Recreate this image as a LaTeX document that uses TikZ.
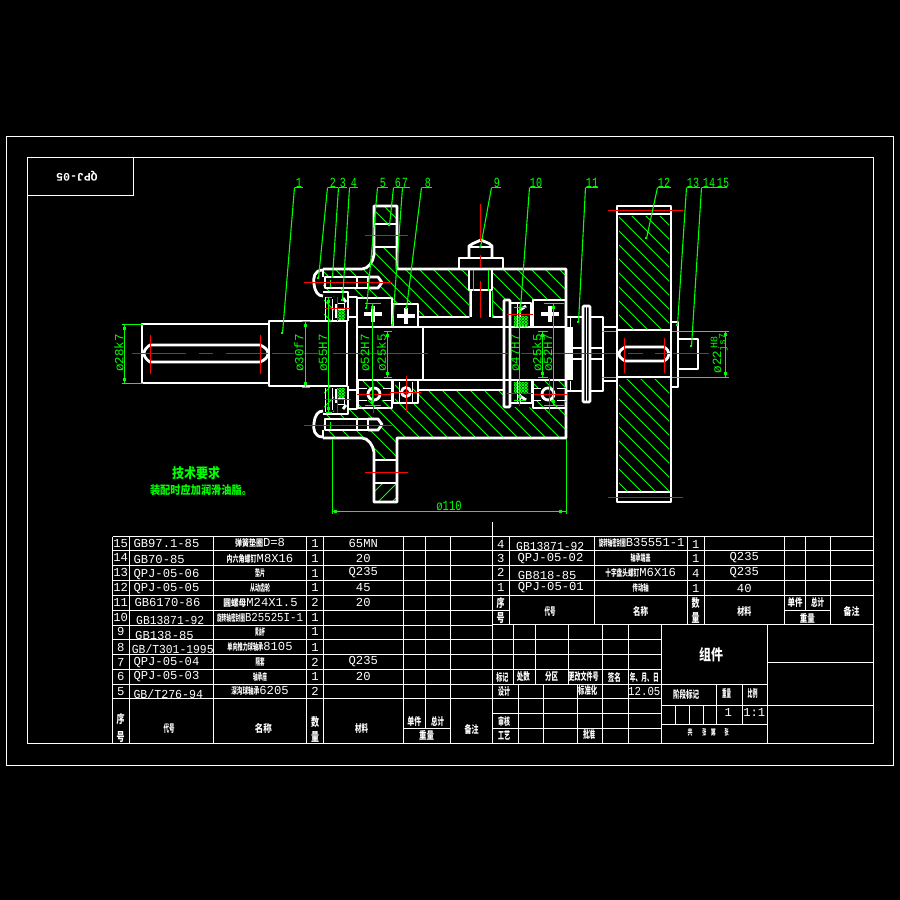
\documentclass[tikz,border=0pt]{standalone}
\usepackage{fontspec}
\usepackage{graphicx}
\setmainfont{Liberation Sans}
\setmonofont{Liberation Mono}
\newfontfamily\cjk{Noto Sans CJK SC}
\newcounter{nn}
\newcommand\tx[4][]{\stepcounter{nn}\node[#1] (n\thenn) at (#2,#3) {#4};}
\newcommand\cj[3][9]{\resizebox{#2pt}{#1pt}{\cjk\bfseries #3}}
\definecolor{grn}{RGB}{0,255,0}
\definecolor{rd}{RGB}{255,0,0}
\tikzset{
 thin w/.style={draw=white,line width=1pt,xshift=.5pt,yshift=-.5pt},
 thick w/.style={draw=white,line width=2.8pt,line join=round},
 gl/.style={draw=grn,line width=1.1pt,xshift=.5pt,yshift=-.5pt},
 hl/.style={draw=grn,line width=.9pt},
 rl/.style={draw=rd,line width=1.3pt,xshift=.5pt,yshift=-.5pt},
 tb/.style={text=white,inner sep=0pt,font=\fontsize{12.2}{13}\selectfont\ttfamily},
 dm/.style={text=grn,inner sep=0pt,rotate=90,font=\fontsize{12.5}{13}\selectfont\ttfamily},
 lb/.style={text=grn,inner sep=0pt,font=\fontsize{14}{14}\selectfont\ttfamily},
}
\newcommand\hatchB[2][13]{\begin{scope}\clip #2;\foreach \k in {-400,-386,...,800}{\draw[hl] (\k,150)--({\k+500},650);}\end{scope}}
\newcommand\hatchF[2][13]{\begin{scope}\clip #2;\foreach \k in {-400,-386,...,800}{\draw[hl] (\k,650)--({\k+500},150);}\end{scope}}
\newcommand\dense[1]{\begin{scope}\clip #1;\foreach \k in {0,3,...,900}{\draw[draw=grn,line width=.9pt] ({\k-300},150)--({\k+200},650);\draw[draw=grn,line width=.9pt] ({\k-300},650)--({\k+200},150);}\end{scope}}
\newcommand\dv[4]{\draw[gl] (#1,#2)--(#1,#3);\draw[gl] ({#1-#4},#2)--({#1+#4},#2);\draw[gl] ({#1-#4},#3)--({#1+#4},#3);\fill[grn] ({#1-1},{#2+2.5}) rectangle ++(3,3);\fill[grn] ({#1-1},{#3-2.5}) rectangle ++(3,-3);}
\newcommand\ldr[7]{\tx[lb]{#1}{183}{\scalebox{.72}[1]{#2}}\draw[gl] (#3,187)--(#4,187);\draw[gl] (#3,187)--(#5,#6);\fill[grn] ({#5-1},{#6-1}) rectangle ++(2.4,2.4);}
\newcommand\plusw[2]{\draw[draw=white,line width=3.2pt] ({#1-9},#2)--({#1+9},#2);\draw[draw=white,line width=3.2pt] (#1,{#2-8})--(#1,{#2+8});}
\newcommand\crossr[6]{\draw[rl] (#3,#2)--(#4,#2);\draw[rl] (#1,#5)--(#1,#6);}
\newcommand\boltpart{%
 \fill[black] (325,277) rectangle (368,288);
 \fill[black] (368,277)--(378,277)--(382,282.5)--(378,288)--(368,288)--cycle;
 \draw[thick w] (325,277) rectangle (368,288);
 \draw[thick w] (357,277)--(357,288);
 \draw[thick w] (368,277)--(378,277)--(382,282.5)--(378,288)--(368,288);
 \draw[thick w] (323,270) .. controls (314,270) and (313,278) .. (314,284) .. controls (315,292) and (318,296) .. (323,296);
 \draw[thick w] (323,269)--(323,277);
 \draw[gl] (330,279)--(330,286);
}
\newcommand\sealpart{%
 \hatchB[7]{(324,296) rectangle (334,320)}
 \dense{(337,308) rectangle (345,319)}
 \draw[thin w] (325,296)--(325,320);
 \draw[thin w] (332,298)--(332,320);
 \draw[thick w] (336,304)--(336,318);
 \draw[thick w] (343,298)--(346,302);
 \draw[thin w] (337,303) rectangle (344,309);
}
\newcommand\bearingB[1]{%
 \hatchB{(#1,381) rectangle ({#1+34},388)}
 \hatchB{(#1,400) rectangle ({#1+34},408)}
 \draw[thin w] (#1,388)--({#1+8},388);\draw[thin w] ({#1+24},388)--({#1+33},388);
 \draw[thin w] (#1,400)--({#1+8},400);\draw[thin w] ({#1+24},400)--({#1+33},400);
 \draw[thick w] ({#1+16},394) circle (6);
}
\begin{document}
\begin{tikzpicture}[x=1pt,y=-1pt]
\useasboundingbox (0,0) rectangle (900,900);
\fill[black] (0,0) rectangle (900,900);
% frames
\draw[thin w] (6,136) rectangle (893,765);
\draw[thin w] (27,157) rectangle (873,743);
\draw[thin w] (27,195)--(133,195)--(133,157);
\tx[tb,rotate=180,font=\fontsize{11.5}{12}\selectfont\ttfamily\bfseries]{77}{176}{QPJ-05}
% hatching
\hatchB{(357,298)--(393,298)--(393,304)--(418,304)--(418,317)--(469,317)--(469,269)--(397,269)--(397,247)--(374,247)--(374,260)--(362,269)--(323,269)--(323,292)--(348,292)--(348,297)--cycle}
\hatchB{(492,317)--(504,317)--(504,300)--(566,300)--(566,269)--(492,269)--cycle}
\hatchB{(374,206) rectangle (397,224)}
\hatchB{(357,409)--(392,409)--(393,403)--(418,403)--(418,390)--(504,390)--(504,407)--(566,408)--(566,438)--(397,438)--(397,460)--(374,460)--(374,447)--(362,438)--(323,438)--(323,414)--(348,414)--(348,409)--cycle}
\hatchF{(374,483) rectangle (397,502)}
\hatchB{(619,216) rectangle (669,329)}
\hatchB{(619,379) rectangle (669,490)}
% left shaft
\draw[thick w] (142,324) rectangle (269,383);
\draw[thick w] (269,321) rectangle (347,386);
\draw[thick w] (150,345)--(260,345) .. controls (265,347) and (268,350) .. (268,353.5) .. controls (268,357) and (265,360) .. (260,362)--(150,362) .. controls (147,360) and (144,357) .. (144,353.5) .. controls (144,350) and (147,347) .. (150,345)--cycle;
% housing outline
\draw[thick w] (323,269)--(362,269) .. controls (368,269) and (373,262) .. (374,255)--(374,206)--(397,206)--(397,269)--(566,269)--(566,438)--(397,438)--(397,502)--(374,502)--(374,452) .. controls (373,445) and (368,438) .. (362,438)--(323,438);
\draw[thick w] (374,224)--(398,224);\draw[thick w] (374,247)--(398,247);
\draw[thick w] (374,460)--(398,460);\draw[thick w] (374,483)--(398,483);
% cap
\draw[thick w] (323,292)--(348,292)--(348,297)--(357,297)--(357,409)--(348,409)--(348,414)--(323,414);
\draw[thick w] (348,292)--(348,321);\draw[thick w] (348,386)--(348,414);
\draw[thick w] (348,317)--(357,317);\draw[thick w] (348,390)--(357,390);
% bolts
\boltpart
\begin{scope}[y=1pt,yshift=-707pt]\boltpart\end{scope}
% seals on the left
\sealpart
\begin{scope}[y=1pt,yshift=-707pt]\sealpart\end{scope}
% shaft body
\draw[thick w] (357,327)--(566,327);
\draw[thick w] (357,380)--(566,380);
\draw[thick w] (423,327)--(423,380);
% bore
\draw[thick w] (418,317)--(469,317);\draw[thick w] (492,317)--(504,317);
\draw[thick w] (418,390)--(504,390);
% bearings top
\draw[thick w] (358,298)--(392,298)--(392,327);
\draw[thick w] (393,304)--(393,327);
\draw[thick w] (393,304)--(418,304)--(418,327);
\plusw{373}{314}\plusw{406}{316}
\draw[thick w] (533,327)--(533,300)--(566,300);
\plusw{550}{314}
% bearings bottom
\bearingB{358}
\draw[thick w] (358,380)--(358,408)--(392,408)--(392,380);
\hatchB{(395,381) rectangle (399,402)}\hatchB{(412,381) rectangle (417,402)}
\draw[thick w] (393,380)--(393,403)--(418,403)--(418,380);
\draw[thin w] (399,381)--(399,403);\draw[thin w] (412,381)--(412,403);
\draw[thick w] (406,392) circle (4.5);
\bearingB{532}
\draw[thick w] (533,380)--(533,408)--(566,408);
% seal 10
\draw[thick w,rounded corners=1pt] (504,300) rectangle (510,407);
\dense{(514,316) rectangle (528,326)}
\dense{(514,382) rectangle (528,392)}
\draw[thick w] (510,303)--(531,303)--(531,327);
\draw[thin w] (517,303)--(517,327);\draw[thin w] (520,303)--(520,316);
\draw[thick w] (510,403)--(532,403)--(532,380);
\draw[thin w] (517,380)--(517,403);\draw[thin w] (520,392)--(520,403);
\draw[thick w] (520,396)--(526,400);\draw[thick w] (520,310)--(526,306);
% nipple
\draw[thick w] (459,269)--(459,258)--(503,258)--(503,269);
\draw[thick w] (469,258)--(469,246)--(473,243.5)--(481,240)--(489,243.5)--(492,246)--(492,258);
\draw[thick w] (469,247)--(492,247);
\draw[thick w] (469,269)--(469,290)--(492,290)--(492,269);
\draw[thick w] (471,290)--(471,317);\draw[thick w] (490,290)--(490,317);
\draw[gl] (473,269)--(473,290);\draw[gl] (488,269)--(488,290);
\draw[gl] (469,290)--(469,317);\draw[gl] (492,290)--(492,317);
% nut and flange
\fill[white] (565,327) rectangle (573,380);
\draw[thick w] (567,317)--(603,317)--(603,391)--(567,391);
\draw[thin w] (570,317)--(570,327);\draw[thin w] (570,380)--(570,391);
\draw[thick w] (573,348)--(603,348);\draw[thick w] (573,359)--(603,359);
\fill[black] (583,306) rectangle (590,402);
\draw[thick w,rounded corners=1pt] (583,306) rectangle (590,402);
\draw[thin w] (586,306)--(586,402);
\draw[thick w] (603,327)--(617,327);\draw[thick w] (603,381)--(617,381);
\draw[gl] (601,331)--(617,331);\draw[gl] (601,377)--(617,377);
% gear
\draw[thick w] (617,206) rectangle (671,502);
\draw[thick w] (617,214)--(672,214);\draw[thick w] (617,492)--(672,492);
\draw[thick w] (617,330)--(671,330);\draw[thick w] (617,377)--(671,377);
\draw[thick w] (625,347)--(664,347) .. controls (667,349) and (669,351) .. (669,354) .. controls (669,357) and (667,359) .. (664,361)--(625,361) .. controls (622,359) and (619,357) .. (619,354) .. controls (619,351) and (622,349) .. (625,347)--cycle;
% washer and bolt
\draw[thick w] (671,322)--(678,322)--(678,387)--(671,387);
\draw[thick w] (678,339)--(698,339)--(698,369)--(678,369);
% red centre lines
\foreach \a/\b in {131/185,198/212,225/267,271/293,303/317,332/427,439/508,520/615,627/642,654/669,672/708}{\draw[rl] (\a,353)--(\b,353);}
\draw[rl] (150,334)--(150,373);\draw[rl] (260,334)--(260,373);
\draw[rl] (624,337)--(624,372);\draw[rl] (664,337)--(664,372);
\draw[rl] (303,282)--(391,282);\draw[rl] (303,425)--(391,425);
\draw[rl] (364,235)--(407,235);\draw[rl] (364,472)--(407,472);
\draw[rl] (480,203)--(480,240);\draw[rl] (480,254)--(480,266);\draw[rl] (480,280)--(480,317);
\draw[rl] (607,210)--(682,210);\draw[rl] (607,497)--(682,497);
\crossr{337}{308}{324}{349}{296}{320}
\crossr{337}{399}{324}{350}{388}{412}
\crossr{373}{394}{356}{390}{382}{412}
\crossr{406}{392}{389}{420}{375}{410}
\crossr{519}{314}{506}{532}{304}{322}
\crossr{519}{393}{506}{532}{380}{405}
\crossr{549}{394}{533}{566}{377}{412}
% dimensions
\draw[gl] (121,324)--(142,324);\draw[gl] (121,383)--(142,383);
\dv{124}{324}{383}{3}
\tx[dm]{119}{353}{ø28k7}
\dv{305}{321}{387}{4}
\tx[dm]{299}{353}{ø30f7}
\dv{328}{297}{412}{3}
\tx[dm]{323}{353}{ø55H7}
\dv{372}{303}{405}{8}
\tx[dm]{365}{353}{ø52H7}
\dv{387}{331}{377}{4}
\tx[dm]{381.5}{353}{ø25k5}
\dv{519}{307}{400}{6}
\tx[dm]{515}{353}{ø47H7}
\dv{542}{331}{377}{5}
\tx[dm]{537}{353}{ø25k5}
\dv{553}{303}{405}{10}
\tx[dm]{548}{353}{ø52H7}
\draw[gl] (332,438)--(332,513);\draw[gl] (566,438)--(566,513);
\draw[gl] (332,511)--(566,511);
\fill[grn] (334,510) rectangle ++(3,3);\fill[grn] (559,510) rectangle ++(3,3);
\tx[lb]{449}{506}{\scalebox{.75}[1]{ø110}}
\draw[gl] (671,331)--(728,331);\draw[gl] (671,377)--(728,377);
\draw[gl] (725,331)--(725,377);
\fill[grn] (724,333) rectangle ++(3,3);\fill[grn] (724,372) rectangle ++(3,3);
\tx[dm]{717}{362}{ø22}
\tx[dm,font=\fontsize{10}{10}\selectfont\ttfamily]{714}{342}{H8}
\tx[dm,font=\fontsize{10}{10}\selectfont\ttfamily]{723}{342}{js7}
% leaders
\ldr{299}{1}{294}{302}{282}{333}{}
\ldr{333}{2}{327}{337}{318}{278}{}
\ldr{343}{3}{338}{346}{332}{277}{}
\ldr{354}{4}{349}{357}{342}{300}{}
\ldr{383}{5}{377}{387}{366}{308}{}
\ldr{398}{6}{393}{402}{389}{225}{}
\ldr{405}{7}{402}{409}{392}{325}{}
\ldr{428}{8}{421}{431}{406}{308}{}
\ldr{497}{9}{491}{500}{480}{247}{}
\ldr{536}{10}{529}{541}{520}{308}{}
\ldr{592}{11}{585}{597}{578}{322}{}
\ldr{664}{12}{657}{670}{646}{238}{}
\ldr{693}{13}{686}{699}{677}{325}{}
\ldr{709}{14}{701}{726}{691}{346}{}
\tx[lb]{723}{183}{\scalebox{.72}[1]{15}}
% notes
\tx[text=grn,inner sep=0pt]{196}{473}{\cj[12]{48}{技术要求}}
\tx[text=grn,inner sep=0pt]{201}{490}{\cj[10]{102}{装配时应加润滑油脂。}}
% table grid
\draw[thin w] (492,521)--(492,743);
\foreach \y in {536,550,565,580,595}{\draw[thin w] (112,\y)--(873,\y);}
\foreach \y in {610,625,639,654,669,684,698}{\draw[thin w] (112,\y)--(492,\y);}
\draw[thin w] (492,624)--(873,624);
\foreach \x in {112,129,213,306,323,403,450}{\draw[thin w] (\x,536)--(\x,743);}
\draw[thin w] (425,536)--(425,728);
\draw[thin w] (403,728)--(450,728);
\foreach \x in {509,594,687,704,784,830}{\draw[thin w] (\x,536)--(\x,624);}
\draw[thin w] (805,536)--(805,610);
\draw[thin w] (492,610)--(509,610);
\draw[thin w] (784,610)--(830,610);
\foreach \y in {639,654,669,684,698,713,728}{\draw[thin w] (492,\y)--(661,\y);}
\foreach \x in {513,535,568,602,628}{\draw[thin w] (\x,624)--(\x,684);}
\foreach \x in {518,543,577,602,628}{\draw[thin w] (\x,684)--(\x,743);}
\draw[thin w] (661,624)--(661,743);
\draw[thin w] (767,624)--(767,743);
\draw[thin w] (661,684)--(767,684);
\draw[thin w] (661,705)--(873,705);
\draw[thin w] (661,724)--(767,724);
\draw[thin w] (767,662)--(873,662);
\draw[thin w] (716,684)--(716,724);
\draw[thin w] (742,684)--(742,724);
\foreach \x in {675,689,703}{\draw[thin w] (\x,705)--(\x,724);}
% left table rows
\tx[tb]{120.7}{543.3}{15}\tx[tb,anchor=west]{133.3}{543.3}{GB97.1-85}\tx[tb]{260}{543.3}{\cj[8]{28}{弹簧垫圈}D=8}\tx[tb]{315}{543.3}{1}\tx[tb]{363.3}{543.3}{65MN}
\tx[tb]{120.7}{557.7}{14}\tx[tb,anchor=west]{133.3}{559.3}{GB70-85}\tx[tb]{260}{558.5}{\cj[8]{30}{内六角螺钉}M8X16}\tx[tb]{315}{558}{1}\tx[tb]{363.3}{558}{20}
\tx[tb]{120.7}{572.7}{13}\tx[tb,anchor=west]{133.3}{574.3}{QPJ-05-06}\tx[tb]{260}{573}{\cj[8]{10}{垫片}}\tx[tb]{315}{573}{1}\tx[tb]{363.3}{573}{Q235}
\tx[tb]{120.7}{587.3}{12}\tx[tb,anchor=west]{133.3}{588.3}{QPJ-05-05}\tx[tb]{260}{587.5}{\cj[8]{20}{从动齿轮}}\tx[tb]{315}{587.5}{1}\tx[tb]{363.3}{587.5}{45}
\tx[tb]{120.7}{602.3}{11}\tx[tb,anchor=west]{134.3}{602}{GB6170-86}\tx[tb]{260.5}{602.5}{\cj[8]{23}{圆螺母}M24X1.5}\tx[tb]{315}{602.5}{2}\tx[tb]{363.3}{602.5}{20}
\tx[tb]{120.7}{617.7}{10}\tx[tb,anchor=west]{136}{620.7}{\scalebox{.93}[1]{GB13871-92}}\tx[tb]{260}{617.7}{\cj[8]{28}{旋转轴密封圈}\scalebox{.88}[1]{B25525I-1}}\tx[tb]{315}{617.7}{1}
\tx[tb]{120.7}{631.7}{9}\tx[tb,anchor=west]{135}{635}{GB138-85}\tx[tb]{260}{631.7}{\cj[8]{10}{黄油杯}}\tx[tb]{315}{631.7}{1}
\tx[tb]{120.7}{647}{8}\tx[tb,anchor=west]{131.7}{649}{\scalebox{.93}[1]{GB/T301-1995}}\tx[tb]{260}{647}{\cj[8]{36}{单向推力球轴承}8105}\tx[tb]{315}{647}{1}
\tx[tb]{120.7}{662}{7}\tx[tb,anchor=west]{133.3}{662.5}{QPJ-05-04}\tx[tb]{260}{662}{\cj[8]{9}{隔套}}\tx[tb]{315}{662}{2}\tx[tb]{363.3}{662}{Q235}
\tx[tb]{120.7}{676.7}{6}\tx[tb,anchor=west]{133.3}{677}{QPJ-05-03}\tx[tb]{260}{676.7}{\cj[8]{14}{轴承座}}\tx[tb]{315}{676.7}{1}\tx[tb]{363.3}{676.7}{20}
\tx[tb]{120.7}{691.7}{5}\tx[tb,anchor=west]{133.3}{694.3}{\scalebox{.95}[1]{GB/T276-94}}\tx[tb]{260}{691}{\cj[8]{28}{深沟球轴承}6205}\tx[tb]{315}{691.7}{2}
\tx[text=white,inner sep=0pt]{120.7}{719}{\cj[10]{8}{序}}\tx[text=white,inner sep=0pt]{120.7}{737}{\cj[10]{8}{号}}
\tx[text=white,inner sep=0pt]{169}{728}{\cj{11}{代号}}\tx[text=white,inner sep=0pt]{263.3}{728}{\cj{17}{名称}}
\tx[text=white,inner sep=0pt]{315}{721.7}{\cj[10]{8}{数}}\tx[text=white,inner sep=0pt]{315}{736.7}{\cj[10]{8}{量}}
\tx[text=white,inner sep=0pt]{361.7}{728}{\cj{13}{材料}}\tx[text=white,inner sep=0pt]{414.3}{721.7}{\cj{14}{单件}}\tx[text=white,inner sep=0pt]{437.7}{721.7}{\cj{13}{总计}}
\tx[text=white,inner sep=0pt]{426.7}{735.7}{\cj{15}{重量}}\tx[text=white,inner sep=0pt]{471.7}{729}{\cj{14}{备注}}
% right table rows
\tx[tb]{500.7}{544}{4}\tx[tb,anchor=west]{516}{546}{\scalebox{.93}[1]{GB13871-92}}\tx[tb]{641.7}{543.3}{\cj[8]{27}{旋转轴密封圈}B35551-1}\tx[tb]{695.7}{544}{1}
\tx[tb]{500.7}{558}{3}\tx[tb,anchor=west]{517.3}{558.5}{QPJ-05-02}\tx[tb]{640.7}{558}{\cj[8]{20}{轴承端盖}}\tx[tb]{695.7}{558}{1}\tx[tb]{744.3}{558}{Q235}
\tx[tb]{500.7}{572.7}{2}\tx[tb,anchor=west]{517.7}{575}{GB818-85}\tx[tb]{640.7}{573.3}{\cj[8]{34}{十字盘头螺钉}M6X16}\tx[tb]{695.7}{573}{4}\tx[tb]{744.3}{573}{Q235}
\tx[tb]{500.7}{587.7}{1}\tx[tb,anchor=west]{517.7}{588}{QPJ-05-01}\tx[tb]{640.7}{588}{\cj[8]{16}{传动轴}}\tx[tb]{695.7}{588}{1}\tx[tb]{744.3}{588}{40}
\tx[text=white,inner sep=0pt]{500.7}{602.7}{\cj[10]{8}{序}}\tx[text=white,inner sep=0pt]{500.7}{617.7}{\cj[10]{8}{号}}
\tx[text=white,inner sep=0pt]{550}{611}{\cj{11}{代号}}\tx[text=white,inner sep=0pt]{640.7}{611}{\cj{15}{名称}}
\tx[text=white,inner sep=0pt]{695.7}{603.3}{\cj[10]{8}{数}}\tx[text=white,inner sep=0pt]{695.7}{618.3}{\cj[10]{8}{量}}
\tx[text=white,inner sep=0pt]{744.3}{611}{\cj{14}{材料}}\tx[text=white,inner sep=0pt]{795}{602.7}{\cj{15}{单件}}\tx[text=white,inner sep=0pt]{817.7}{602.7}{\cj{13}{总计}}
\tx[text=white,inner sep=0pt]{807.3}{618.3}{\cj{15}{重量}}\tx[text=white,inner sep=0pt]{851.7}{611}{\cj{16}{备注}}
% title block
\tx[text=white,inner sep=0pt]{502.3}{677}{\cj{12}{标记}}\tx[text=white,inner sep=0pt]{523.3}{677}{\cj{13}{处数}}\tx[text=white,inner sep=0pt]{551.7}{677}{\cj{13}{分区}}
\tx[text=white,inner sep=0pt]{583.7}{677}{\cj{30}{更改文件号}}\tx[text=white,inner sep=0pt]{614.3}{677}{\cj{13}{签名}}\tx[text=white,inner sep=0pt]{644.3}{677}{\cj{29}{年、月、日}}
\tx[text=white,inner sep=0pt]{504}{691.7}{\cj{12}{设计}}\tx[text=white,inner sep=0pt]{587.7}{690.7}{\cj{19}{标准化}}
\tx[tb]{644.3}{691.7}{\scalebox{.88}[1]{12.05}}
\tx[text=white,inner sep=0pt]{504}{721}{\cj{12}{审核}}\tx[text=white,inner sep=0pt]{504}{735.7}{\cj{12}{工艺}}\tx[text=white,inner sep=0pt]{589}{735}{\cj{12}{批准}}
\tx[text=white,inner sep=0pt]{711}{654.3}{\cj[13]{24}{组件}}
\tx[text=white,inner sep=0pt]{686}{694.3}{\cj{26}{阶段标记}}\tx[text=white,inner sep=0pt]{726.7}{693.3}{\cj{9}{重量}}\tx[text=white,inner sep=0pt]{752.7}{693.3}{\cj{10}{比例}}
\tx[tb]{728.3}{712.3}{1}\tx[tb]{754.3}{712.3}{1:1}
\tx[text=white,inner sep=0pt]{690}{732.3}{\cj[7]{5}{共}}\tx[text=white,inner sep=0pt]{704.3}{732.3}{\cj[7]{4}{张}}\tx[text=white,inner sep=0pt]{713.3}{732.3}{\cj[7]{5}{第}}\tx[text=white,inner sep=0pt]{726.7}{732.3}{\cj[7]{4}{张}}
\end{tikzpicture}
\end{document}
